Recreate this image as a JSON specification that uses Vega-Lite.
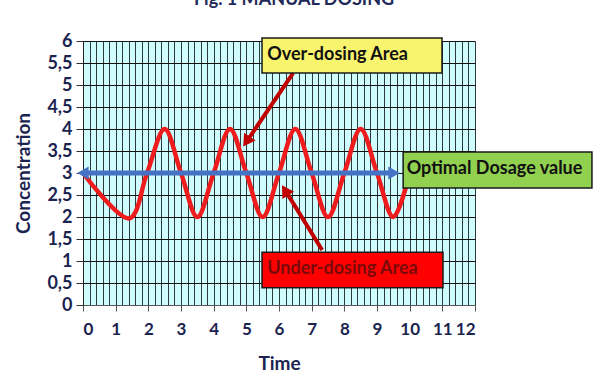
{
  "$schema": "https://vega.github.io/schema/vega-lite/v6.json",
  "width": 392,
  "height": 264,
  "autosize": {"type": "none"},
  "padding": {"left": 83, "top": 41, "right": 125, "bottom": 75},
  "background": "white",
  "title": {"text": "Fig. 1 MANUAL DOSING", "font": "Lato", "fontSize": 18, "fontWeight": "bold", "color": "#1F2A5A", "anchor": "middle", "frame": "group", "offset": 30, "dx": 15, "dy": 21, "baseline": "alphabetic"},
  "config": {
    "view": {"fill": "#CFFCFC", "stroke": null},
    "axis": {"labelFont": "Lato", "titleFont": "Lato", "labelFontWeight": "bold", "titleFontWeight": "bold", "labelColor": "#1B2450", "titleColor": "#1B2450"}
  },
  "datasets": {
    "curve": [
      {"time": 0, "concentration": 3},
      {"time": 1.42, "concentration": 1.97},
      {"time": 1.96, "concentration": 3},
      {"time": 2.5, "concentration": 4},
      {"time": 3, "concentration": 3},
      {"time": 3.5, "concentration": 2},
      {"time": 4, "concentration": 3},
      {"time": 4.5, "concentration": 4},
      {"time": 5, "concentration": 3},
      {"time": 5.5, "concentration": 2},
      {"time": 6, "concentration": 3},
      {"time": 6.5, "concentration": 4},
      {"time": 7, "concentration": 3},
      {"time": 7.5, "concentration": 2},
      {"time": 8, "concentration": 3},
      {"time": 8.5, "concentration": 4},
      {"time": 9, "concentration": 3},
      {"time": 9.5, "concentration": 2},
      {"time": 10, "concentration": 3}
    ],
    "optimal": [
      {"time": 0, "concentration": 3, "end": "left"},
      {"time": 9.52, "concentration": 3, "end": "right"}
    ],
    "arrows": [
      {"arrow": "over", "end": "tail", "time": 6.43, "concentration": 5.27},
      {"arrow": "over", "end": "head", "time": 5.04, "concentration": 3.75},
      {"arrow": "under", "end": "tail", "time": 7.32, "concentration": 1.25},
      {"arrow": "under", "end": "head", "time": 6.22, "concentration": 2.57}
    ],
    "boxes": [
      {"label": "Over-dosing Area", "x0": 5.48, "x1": 10.99, "y0": 5.27, "y1": 6.07, "tx": 5.64, "ty": 5.68},
      {"label": "Optimal Dosage value", "x0": 9.8, "x1": 15.58, "y0": 2.66, "y1": 3.48, "tx": 9.91, "ty": 3.1},
      {"label": "Under-dosing Area", "x0": 5.48, "x1": 11.02, "y0": 0.39, "y1": 1.2, "tx": 5.64, "ty": 0.81}
    ]
  },
  "encoding": {
    "x": {
      "field": "time", "type": "quantitative",
      "scale": {"domain": [0, 12], "nice": false, "zero": false},
      "axis": {
        "title": "Time", "titleFontSize": 19, "titlePadding": 17,
        "values": [0,0.2,0.4,0.6,0.8,1,1.2,1.4,1.6,1.8,2,2.2,2.4,2.6,2.8,3,3.2,3.4,3.6,3.8,4,4.2,4.4,4.6,4.8,5,5.2,5.4,5.6,5.8,6,6.2,6.4,6.6,6.8,7,7.2,7.4,7.6,7.8,8,8.2,8.4,8.6,8.8,9,9.2,9.4,9.6,9.8,10,10.2,10.4,10.6,10.8,11,11.2,11.4,11.6,11.8,12],
        "labelExpr": "datum.value % 1 === 0 ? format(datum.value, 'd') : ''",
        "labelOverlap": false,
        "labelFontSize": 17,
        "labelPadding": 10,
        "grid": true, "gridColor": "#2B3B3D", "gridWidth": 1,
        "tickSize": 6, "tickColor": "#555555",
        "tickOpacity": {"condition": {"test": "datum.value % 1 !== 0", "value": 0}, "value": 1},
        "domainColor": "#555555"
      }
    },
    "y": {
      "field": "concentration", "type": "quantitative",
      "scale": {"domain": [0, 6], "nice": false},
      "axis": {
        "title": "Concentration", "titleFontSize": 19, "titlePadding": 13,
        "values": [0,0.5,1,1.5,2,2.5,3,3.5,4,4.5,5,5.5,6],
        "labelExpr": "replace(format(datum.value, '~g'), '.', ',')",
        "labelFontSize": 18, "labelPadding": 4,
        "grid": true, "gridColor": "#111111", "gridWidth": 1,
        "tickSize": 7, "tickColor": "#333333", "domainColor": "#222222"
      }
    }
  },
  "layer": [
    {
      "data": {"name": "curve"},
      "mark": {"type": "line", "color": "#EE1C1C", "strokeWidth": 4.5, "interpolate": "catmull-rom"}
    },
    {
      "data": {"name": "optimal"},
      "mark": {"type": "line", "color": "#4472C4", "strokeWidth": 5}
    },
    {
      "data": {"name": "optimal"},
      "transform": [{"filter": "datum.end === 'left'"}],
      "mark": {"type": "point", "shape": "triangle-left", "filled": true, "size": 170, "color": "#4472C4", "opacity": 1}
    },
    {
      "data": {"name": "optimal"},
      "transform": [{"filter": "datum.end === 'right'"}],
      "mark": {"type": "point", "shape": "triangle-right", "filled": true, "size": 170, "color": "#4472C4", "opacity": 1}
    },
    {
      "data": {"name": "arrows"},
      "mark": {"type": "line", "color": "#C00000", "strokeWidth": 4},
      "encoding": {"detail": {"field": "arrow"}}
    },
    {
      "data": {"name": "arrows"},
      "transform": [{"filter": "datum.arrow === 'over' && datum.end === 'head'"}],
      "mark": {"type": "point", "shape": "triangle", "filled": true, "size": 190, "color": "#C00000", "opacity": 1, "angle": 214}
    },
    {
      "data": {"name": "arrows"},
      "transform": [{"filter": "datum.arrow === 'under' && datum.end === 'head'"}],
      "mark": {"type": "point", "shape": "triangle", "filled": true, "size": 190, "color": "#C00000", "opacity": 1, "angle": 328}
    },
    {
      "data": {"name": "boxes"},
      "mark": {"type": "rect", "stroke": "#1A1A1A", "strokeWidth": 1.5, "clip": false, "opacity": 1},
      "encoding": {
        "x": {"field": "x0", "type": "quantitative"},
        "x2": {"field": "x1"},
        "y": {"field": "y0", "type": "quantitative"},
        "y2": {"field": "y1"},
        "fill": {"field": "label", "type": "nominal", "legend": null,
          "scale": {"domain": ["Over-dosing Area", "Optimal Dosage value", "Under-dosing Area"], "range": ["#F9F46E", "#92D050", "#FF0000"]}}
      }
    },
    {
      "data": {"name": "boxes"},
      "mark": {"type": "text", "align": "left", "baseline": "middle", "font": "Lato", "fontSize": 18, "fontWeight": "bold", "clip": false},
      "encoding": {
        "x": {"field": "tx", "type": "quantitative"},
        "y": {"field": "ty", "type": "quantitative"},
        "text": {"field": "label"},
        "color": {"condition": {"test": "datum.label === 'Under-dosing Area'", "value": "#7A0A0A"}, "value": "#111111"}
      }
    }
  ]
}
